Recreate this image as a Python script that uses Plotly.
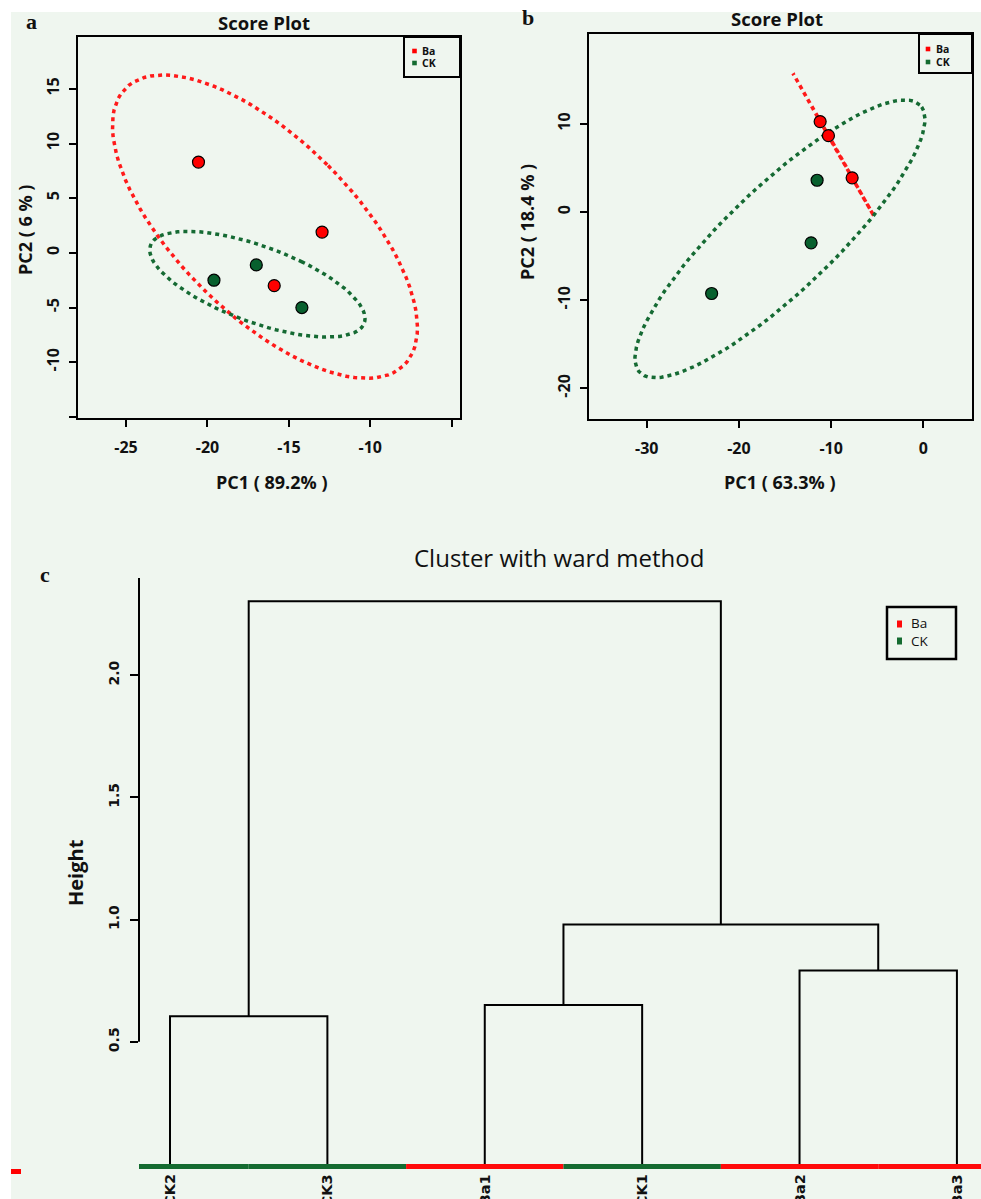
import numpy as np
import plotly.graph_objects as go

W, H = 981, 1199

# ---------------- data ----------------
# Panel a : PCA score plot
a_ba_pc1 = [-20.55, -12.96, -15.9]
a_ba_pc2 = [8.3, 1.9, -3.0]
a_ck_pc1 = [-19.6, -17.0, -14.2]
a_ck_pc2 = [-2.5, -1.1, -5.0]
a_xticks = [-25, -20, -15, -10, -5]
a_xticklabels = ["-25", "-20", "-15", "-10", ""]
a_yticks = [15, 10, 5, 0, -5, -10, -15]
a_yticklabels = ["15", "10", "5", "0", "-5", "-10", ""]

# Panel b : PCA score plot
b_ba_pc1 = [-11.19, -10.29, -7.72]
b_ba_pc2 = [10.26, 8.67, 3.88]
b_ck_pc1 = [-11.52, -12.17, -22.96]
b_ck_pc2 = [3.61, -3.49, -9.24]
b_xticks = [-30, -20, -10, 0]
b_yticks = [10, 0, -10, -20]

# Panel c : dendrogram (ward)
leaf_labels = ["CK2", "CK3", "Ba1", "CK1", "Ba2", "Ba3"]
leaf_groups = ["CK", "CK", "Ba", "CK", "Ba", "Ba"]
merge_left = [-1, -3, -5, 2, 1]      # negative = leaf (1-based), positive = earlier merge
merge_right = [-2, -4, -6, 3, 4]
merge_height = [0.605, 0.651, 0.792, 0.980, 2.303]
c_yticks = [0.5, 1.0, 1.5, 2.0]
c_yticklabels = ["0.5", "1.0", "1.5", "2.0"]

groups = ["Ba", "CK"]
pt_colors = {"Ba": "#FF0000", "CK": "#08602E"}
ell_colors = {"Ba": "#FF1A1A", "CK": "#156A33"}
bar_colors = {"Ba": "#FF0A0A", "CK": "#146B30"}
BG = "#EFF6EF"


def px(x):
    return x / W


def py(y):
    return 1 - y / H


def ellipse(x, y, t=np.sqrt(5.991464547), n=100):
    x = np.asarray(x, float)
    y = np.asarray(y, float)
    cov = np.cov(np.vstack([x, y]))
    sx, sy = np.sqrt(cov[0, 0]), np.sqrt(cov[1, 1])
    r = min(max(cov[0, 1] / (sx * sy), -1), 1)
    d = np.arccos(r)
    a = np.linspace(0, 2 * np.pi, n)
    return t * sx * np.cos(a + d / 2) + x.mean(), t * sy * np.cos(a - d / 2) + y.mean()


fig = go.Figure()

# ---- score plots ----
panels = [
    ("x", "y", (a_ba_pc1, a_ba_pc2), (a_ck_pc1, a_ck_pc2)),
    ("x2", "y2", (b_ba_pc1, b_ba_pc2), (b_ck_pc1, b_ck_pc2)),
]
for xa, ya, ba, ck in panels:
    for g, (xs, ys) in zip(groups, [ba, ck]):
        ex, ey = ellipse(xs, ys)
        fig.add_trace(go.Scatter(x=ex, y=ey, mode="lines", xaxis=xa, yaxis=ya,
                                 line=dict(color=ell_colors[g], width=3.5, dash="4px,4px"),
                                 hoverinfo="skip", showlegend=False))
    for g, (xs, ys) in zip(groups, [ba, ck]):
        fig.add_trace(go.Scatter(x=xs, y=ys, mode="markers", xaxis=xa, yaxis=ya,
                                 marker=dict(color=pt_colors[g], size=12,
                                             line=dict(color="black", width=1.2)),
                                 name=g, showlegend=False))

# ---- dendrogram ----
pos = {}
dx, dy = [], []
for k, (l, r, h) in enumerate(zip(merge_left, merge_right, merge_height), start=1):
    pts = []
    for c in (l, r):
        if c < 0:
            pts.append((float(-c), 0.0))
        else:
            pts.append(pos[c])
    (xl, yl), (xr, yr) = pts
    dx += [xl, xl, xr, xr, None]
    dy += [yl, h, h, yr, None]
    pos[k] = ((xl + xr) / 2, h)

fig.add_trace(go.Scatter(x=dx, y=dy, mode="lines", xaxis="x3", yaxis="y3",
                         line=dict(color="black", width=2), hoverinfo="skip",
                         showlegend=False))

shapes = []
annotations = []

# background (white strip on top and left)
shapes.append(dict(type="rect", xref="paper", yref="paper", x0=px(11), x1=1.0,
                   y0=0, y1=py(12), fillcolor=BG, line=dict(width=0), layer="below"))

# coloured bar under leaves
for i, g in enumerate(leaf_groups, start=1):
    shapes.append(dict(type="rect", xref="x3", yref="y3", x0=i - 0.5, x1=i + 0.5,
                       y0=-0.0205, y1=0, fillcolor=bar_colors[g], line=dict(width=0)))

# y axis line of dendrogram
shapes.append(dict(type="line", xref="x3 domain", yref="y3", x0=0, x1=0,
                   y0=c_yticks[0], y1=2.398, line=dict(color="black", width=2)))

# red artefact at bottom-left
shapes.append(dict(type="rect", xref="paper", yref="paper", x0=px(11), x1=px(21),
                   y0=py(1174), y1=py(1169), fillcolor="#FF0000", line=dict(width=0)))

# legends for score plots
for (lx0, lx1, ly0, ly1, sqx, txx, ys) in [
    (404, 460, 37, 77, 414.5, 421, (51, 63)),
    (919, 972, 34, 73, 928, 935, (49, 62)),
]:
    shapes.append(dict(type="rect", xref="paper", yref="paper", x0=px(lx0), x1=px(lx1),
                       y0=py(ly1), y1=py(ly0), line=dict(color="black", width=2)))
    for g, yy in zip(groups, ys):
        shapes.append(dict(type="rect", xref="paper", yref="paper",
                           x0=px(sqx - 2.3), x1=px(sqx + 2.3), y0=py(yy + 2.3), y1=py(yy - 2.3),
                           fillcolor=pt_colors[g] if g == "Ba" else bar_colors[g],
                           line=dict(width=0)))
        annotations.append(dict(text=g, xref="paper", yref="paper", x=px(txx), y=py(yy),
                                xanchor="left", yanchor="middle", showarrow=False,
                                borderpad=0,
                                font=dict(family="Open Sans", size=10.5, color="#111",
                                          weight="bold")))

# legend for dendrogram
shapes.append(dict(type="rect", xref="paper", yref="paper", x0=px(887), x1=px(956),
                   y0=py(659), y1=py(607), line=dict(color="black", width=2.5)))
for g, yy in zip(groups, (624, 641)):
    shapes.append(dict(type="rect", xref="paper", yref="paper",
                       x0=px(897), x1=px(902), y0=py(yy + 3.5), y1=py(yy - 3.5),
                       fillcolor=bar_colors[g], line=dict(width=0)))
annotations.append(dict(text="<br>".join(groups), xref="paper", yref="paper",
                        x=px(910), y=py(632.5), xanchor="left", yanchor="middle",
                        align="left", showarrow=False, borderpad=0,
                        font=dict(family="Open Sans", size=13.5, color="#111", weight=500)))

# leaf labels
for i, lab in enumerate(leaf_labels, start=1):
    annotations.append(dict(text=lab, xref="x3", yref="paper", x=i, y=py(1172),
                            xanchor="center", yanchor="top", textangle=-90, showarrow=False,
                            font=dict(family="DejaVu Sans", size=14.5, color="#111",
                                      weight="bold")))

# texts
def txt(s, x, y, size, family="Open Sans", weight="normal", angle=0):
    annotations.append(dict(text=s, xref="paper", yref="paper", x=px(x), y=py(y),
                            xanchor="center", yanchor="middle", showarrow=False,
                            textangle=angle,
                            font=dict(family=family, size=size, color="#111", weight=weight)))

txt("Score Plot", 264, 22, 18.5, weight="bold")
txt("Score Plot", 777, 19, 18.5, weight="bold")
txt("PC1 ( 89.2% )", 272, 482, 18, weight="bold")
txt("PC1 ( 63.3% )", 780, 482, 18, weight="bold")
txt("PC2 ( 6 % )", 25, 230, 18, weight="bold", angle=-90)
txt("PC2 ( 18.4 % )", 527, 222, 18, weight="bold", angle=-90)
txt("Cluster with ward method", 559, 558, 24, weight=500)
txt("Height", 75, 873, 20, weight="bold", angle=-90)
txt("a", 31, 21, 22, family="Liberation Serif", weight="bold")
txt("b", 528, 18, 22, family="Liberation Serif", weight="bold")
txt("c", 45, 575, 22, family="Liberation Serif", weight="bold")

tickfont = dict(family="Open Sans", size=16, color="#111", weight="bold")
box = dict(showline=True, mirror=True, linecolor="black", linewidth=2,
           ticks="outside", ticklen=7, tickwidth=1.5, tickcolor="black",
           showgrid=False, zeroline=False, tickfont=tickfont)

fig.update_layout(
    width=W, height=H,
    margin=dict(l=0, r=0, t=0, b=0),
    paper_bgcolor="white",
    plot_bgcolor="rgba(0,0,0,0)",
    showlegend=False,
    xaxis=dict(domain=[px(78), px(460)], range=[-27.95, -4.49], anchor="y",
               tickvals=a_xticks, ticktext=a_xticklabels, ticklabelstandoff=7, **box),
    yaxis=dict(domain=[py(418), py(37)], range=[-15.1, 19.74], anchor="x",
               tickvals=a_yticks, ticktext=a_yticklabels, tickangle=-90,
               ticklabelstandoff=4, **box),
    xaxis2=dict(domain=[px(589), px(972)], range=[-36.26, 5.28], anchor="y2",
                tickvals=b_xticks, ticktext=[str(v) for v in b_xticks],
                ticklabelstandoff=7, **box),
    yaxis2=dict(domain=[py(419), py(34)], range=[-23.48, 20.2], anchor="x2",
                tickvals=b_yticks, ticktext=[str(v) for v in b_yticks], tickangle=-90,
                ticklabelstandoff=4, **box),
    xaxis3=dict(domain=[px(139), 1.0], range=[0.803, 6.153], anchor="y3",
                showticklabels=False, ticks="", showline=False, showgrid=False,
                zeroline=False),
    yaxis3=dict(domain=[py(1169), py(578)], range=[-0.0205, 2.398], anchor="x3",
                tickvals=c_yticks, ticktext=c_yticklabels, tickangle=-90,
                ticks="outside", ticklen=8, tickwidth=2, tickcolor="black",
                showline=False, showgrid=False, zeroline=False, ticklabelstandoff=5,
                tickfont=dict(family="DejaVu Sans", size=14, color="#111", weight="bold")),
    shapes=shapes,
    annotations=annotations,
)

fig.write_html("out.html", config={"displayModeBar": False})

# remove the default page margin so the figure sits at the window's top-left corner
with open("out.html", encoding="utf-8") as f:
    html = f.read()
html = html.replace("<head>", "<head><style>html,body{margin:0;padding:0;overflow:hidden;}</style>", 1)
with open("out.html", "w", encoding="utf-8") as f:
    f.write(html)
